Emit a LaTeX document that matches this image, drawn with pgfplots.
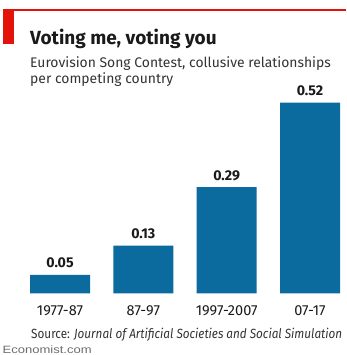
\documentclass[border=0pt]{standalone}
\usepackage{pgfplots}
\pgfplotsset{compat=1.18}
\usepackage{pgfplotstable}
\usepackage{fontspec}
\setmainfont{Fira Sans}
\newfontfamily\arialfont{Liberation Sans}
\definecolor{econred}{HTML}{E3120B}
\definecolor{barblue}{HTML}{0B6A9E}
\definecolor{titlec}{HTML}{1A1A1A}
\definecolor{subc}{HTML}{333333}
\pgfplotstableread{
x val lab
0 0.05 0.05
1 0.13 0.13
2 0.29 0.29
3 0.52 0.52
}\datatab
\begin{document}
\begin{tikzpicture}
\useasboundingbox (0pt,0pt) rectangle (346pt,355pt);
\fill[econred] (3pt,344.3pt) rectangle (346pt,345.5pt);
\fill[econred] (3pt,311pt) rectangle (14pt,345pt);
\node[anchor=base west, inner sep=0, font=\fontsize{19}{22}\selectfont\bfseries, text=titlec] at (30pt,310pt) {Voting me, voting you};
\node[anchor=base west, inner sep=0, font=\fontsize{13.9}{16}\selectfont, text=subc] at (30pt,287.3pt) {Eurovision Song Contest, collusive relationships};
\node[anchor=base west, inner sep=0, font=\fontsize{13.9}{16}\selectfont, text=subc] at (30pt,271.7pt) {per competing country};
\node[anchor=base west, inner sep=0, font=\fontsize{13.3}{16}\selectfont, text=subc] at (31pt,16.7pt) {\resizebox{311pt}{\height}{Source: \textit{Journal of Artificial Societies and Social Simulation}}};
\node[anchor=base west, inner sep=0, font=\fontsize{10.6}{12}\selectfont\arialfont, text=black!58] at (2.5pt,1.6pt) {\resizebox{89pt}{\height}{Economist.com}};
\begin{axis}[
  at={(30pt,61.7pt)}, anchor=south west,
  scale only axis, width=310pt, height=219.9pt,
  xmin=-0.36, xmax=3.36, ymin=0, ymax=0.6,
  hide y axis, axis x line*=bottom, x axis line style={draw=none},
  major tick length=0pt,
  clip=false,
  xtick={0,1,2,3},
  xticklabels={1977-87,87-97,1997-2007,07-17},
  xticklabel style={anchor=base, yshift=-22.4pt, inner sep=0, font=\fontsize{14.5}{16}\selectfont, text=titlec},
]
\addplot[ybar, bar width=0.72, fill=barblue, draw=none,
  point meta=explicit symbolic,
  nodes near coords,
  nodes near coords style={anchor=base, yshift=7pt, inner sep=0, font=\fontsize{14.2}{16}\selectfont\bfseries, text=titlec}]
  table[x=x, y=val, meta=lab] {\datatab};
\end{axis}
\end{tikzpicture}
\end{document}
